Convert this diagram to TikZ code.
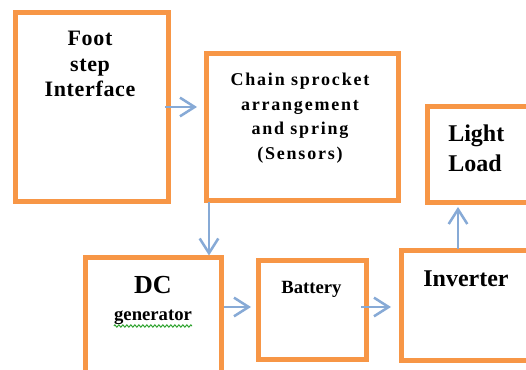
\documentclass[tikz,border=0pt]{standalone}
\usepackage{fontspec}
\setmainfont{Liberation Serif}[BoldFont={Liberation Serif Bold}]
\newfontfamily\spacedfont{Liberation Serif}[BoldFont={Liberation Serif Bold}, LetterSpace=10]
\newfontfamily\footfont{Liberation Serif}[BoldFont={Liberation Serif Bold}, LetterSpace=3]
\usetikzlibrary{arrows.meta,calc,decorations.pathmorphing}
\definecolor{boxorange}{RGB}{247,150,70}
\definecolor{arrowblue}{RGB}{135,170,214}
\definecolor{squiggle}{RGB}{40,160,40}
\begin{document}
\begin{tikzpicture}[x=0.75pt,y=-0.75pt,
  blk/.style={draw=boxorange, line width=3.75pt, inner sep=0pt, rectangle},
  lbl/.style={anchor=base, inner sep=0pt},
  arr/.style={draw=arrowblue, line width=1.9pt, -{Straight Barb[length=11pt,width=14pt]}}]
\useasboundingbox (0,0) rectangle (526,370);
\clip (0,0) rectangle (526,370);
% boxes
\node[blk, minimum width=114.75pt, minimum height=141.75pt] (foot) at (91.5,107.5) {};
\node[blk, minimum width=144pt, minimum height=110.25pt] (chain) at (302,127.5) {};
\node[blk, minimum width=99.75pt, minimum height=72pt] (light) at (493.5,155) {};
\node[blk, minimum width=102pt, minimum height=106.5pt] (dc) at (153,329) {};
\node[blk, minimum width=81pt, minimum height=74.25pt] (batt) at (312,310.5) {};
\node[blk, minimum width=119.25pt, minimum height=82.5pt] (inv) at (480.5,306) {};
% texts
\node[lbl, font=\footfont\bfseries\fontsize{16.5}{20}\selectfont] (ft1) at (90,46) {Foot};
\node[lbl, font=\footfont\bfseries\fontsize{16.5}{20}\selectfont] (ft2) at (90,71.5) {step};
\node[lbl, font=\footfont\bfseries\fontsize{16.5}{20}\selectfont] (ft3) at (90,97) {Interface};
\node[lbl, font=\spacedfont\bfseries\fontsize{13.5}{16}\selectfont] (ch1) at (300,86) {Chain sprocket};
\node[lbl, font=\spacedfont\bfseries\fontsize{13.5}{16}\selectfont] (ch2) at (300,110.5) {arrangement};
\node[lbl, font=\spacedfont\bfseries\fontsize{13.5}{16}\selectfont] (ch3) at (300,135) {and spring};
\node[lbl, font=\spacedfont\bfseries\fontsize{13.5}{16}\selectfont] (ch4) at (300,159.5) {(Sensors)};
\node[lbl, anchor=base west, font=\bfseries\fontsize{18}{22}\selectfont] (ll1) at (448,142) {Light};
\node[lbl, anchor=base west, font=\bfseries\fontsize{18}{22}\selectfont] (ll2) at (448,172) {Load};
\node[lbl, font=\bfseries\fontsize{19.5}{23}\selectfont] (dc1) at (153,294) {DC};
\node[lbl, font=\bfseries\fontsize{14}{17}\selectfont] (dc2) at (153,321) {generator};
\node[lbl, font=\bfseries\fontsize{14}{17}\selectfont] (bt1) at (311.5,294) {Battery};
\node[lbl, font=\bfseries\fontsize{18}{22}\selectfont] (iv1) at (466,287) {Inverter};
\draw[squiggle, line width=0.7pt, decorate, decoration={zigzag, segment length=3pt, amplitude=0.9pt}]
  ($(dc2.base west)+(0,5)$) -- ($(dc2.base east)+(0,5)$);
% arrows
\draw[arr] ($(foot.east)+(-5.5,-0.5)$) coordinate (a1) -- ($(a1 -| chain.west)+(-6.5,0)$);
\draw[arr] ($(chain.south west)+(5.5,-1.5)$) coordinate (a2) -- (a2 |- dc.north);
\draw[arr] ($(dc.east)+(0,-22)$) coordinate (a3) -- ($(a3 -| batt.west)+(-4.5,0)$);
\draw[arr] ($(batt.east)+(-7.5,-3.5)$) coordinate (a4) -- ($(a4 -| inv.west)+(-7.5,0)$);
\draw[arr] ($(inv.north west)+(59.5,0.5)$) coordinate (a5) -- ($(a5 |- light.south)+(0,1.5)$);
\end{tikzpicture}
\end{document}
